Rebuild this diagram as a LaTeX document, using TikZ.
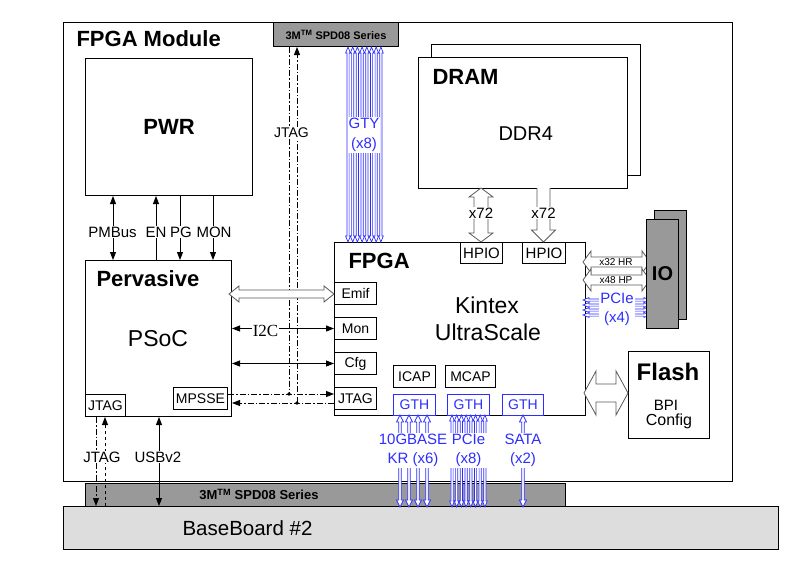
\documentclass[tikz,border=0pt]{standalone}
\usepackage{fontspec}
\setmainfont{Liberation Sans}
\newfontfamily\serifx{Liberation Serif}
\usetikzlibrary{arrows.meta,calc}
\definecolor{bl}{RGB}{45,45,255}
\definecolor{cgray}{RGB}{153,153,153}
\definecolor{bbgray}{RGB}{221,221,221}
\newcommand\fs[2]{\fontsize{#1}{#2}\selectfont}
% vertical double-headed hollow arrow: style, x, ytop, ybot, shaft half, head half, head length
\newcommand\hvD[7]{\draw[#1] (#2,#3) -- ++(#6,#7) -- ++({#5-#6},0) -- ({#2+#5},{#4-#7}) -- ++({#6-#5},0) -- (#2,#4) -- ++(-#6,-#7) -- ++({#6-#5},0) -- ({#2-#5},{#3+#7}) -- ++({#5-#6},0) -- cycle;}
% horizontal double-headed hollow arrow: style, y, xleft, xright, shaft half, head half, head length
\newcommand\hhD[7]{\draw[#1] (#3,#2) -- ++(#7,-#6) -- ++(0,{#6-#5}) -- ({#4-#7},{#2-#5}) -- ++(0,{#5-#6}) -- (#4,#2) -- ++(-#7,#6) -- ++(0,{#5-#6}) -- ({#3+#7},{#2+#5}) -- ++(0,{#6-#5}) -- cycle;}
% vertical single-headed (down) open hollow arrow
\newcommand\hvS[7]{\draw[#1] ({#2-#5},#3) -- ({#2-#5},{#4-#7}) -- ({#2-#6},{#4-#7}) -- (#2,#4) -- ({#2+#6},{#4-#7}) -- ({#2+#5},{#4-#7}) -- ({#2+#5},#3);}
\begin{document}
\begin{tikzpicture}[x=1pt,y=-1pt,
  bx/.style={draw, line width=1pt, inner sep=0pt, anchor=north west},
  port/.style={bx, font=\fs{14}{16}},
  bport/.style={bx, draw=bl, text=bl, font=\fs{14}{16}},
  lbl/.style={fill=white, inner sep=1pt, font=\fs{15}{18}},
  blbl/.style={lbl, text=bl, align=center},
  tip/.tip={Triangle[length=8pt,width=6pt]},
  arr/.style={line width=0.9pt, -tip},
  darr/.style={line width=0.9pt, tip-tip},
  dd/.style={dash pattern=on 6pt off 2pt on 1.5pt off 2pt},
  hol/.style={draw=black!65, fill=white, line width=0.8pt},
  bhol/.style={draw=bl, fill=white, line width=0.7pt},
]
\path[use as bounding box] (0,0) rectangle (794,560);

% ---------- boxes ----------
\node[bx, minimum width=669, minimum height=459] (module) at (63,22) {};
\node[anchor=base west, font=\bfseries\fs{22}{26}] (modt) at (73,46) {FPGA Module};
\node[bx, fill=cgray, minimum width=125, minimum height=24] (topc) at (273,22) {};
\node[font=\bfseries\fs{11}{13}] (topct) at (topc.center) {3M\textsuperscript{TM} SPD08 Series};

\node[bx, minimum width=167, minimum height=137, font=\bfseries\fs{22}{26}] (pwr) at (85,58) {PWR};

\node[bx, minimum width=209, minimum height=131] (dramb) at (431,44) {};
\node[bx, fill=white, minimum width=209, minimum height=131] (dram) at (418,57) {};
\node[anchor=base west, font=\bfseries\fs{22}{26}] (dramt) at (429,84) {DRAM};
\node[anchor=base west, font=\fs{20}{24}] (ddr) at (495,140) {DDR4};

\node[bx, minimum width=251, minimum height=173] (fpga) at (334,242) {};
\node[anchor=base west, font=\bfseries\fs{22}{26}] (fpgat) at (345,268) {FPGA};
\node[anchor=base, font=\fs{23}{27}] (kin) at (487,313) {Kintex};
\node[anchor=base, font=\fs{23}{27}] (us) at (488,340) {UltraScale};
\node[port, minimum width=42, minimum height=21, font=\fs{15}{18}] (hpio1) at (460,242) {HPIO};
\node[port, minimum width=43, minimum height=21, font=\fs{15}{18}] (hpio2) at (522,242) {HPIO};
\node[port, minimum width=42, minimum height=22] (emif) at (334,282) {Emif};
\node[port, minimum width=42, minimum height=22] (mon) at (334,317) {Mon};
\node[port, minimum width=42, minimum height=22] (cfg) at (334,352) {Cfg};
\node[port, minimum width=42, minimum height=22] (fjtag) at (334,387) {JTAG};
\node[port, minimum width=42, minimum height=22] (icap) at (393,365) {ICAP};
\node[port, minimum width=50, minimum height=22] (mcap) at (445,365) {MCAP};
\node[bport, minimum width=42, minimum height=21] (gth1) at (393,394) {GTH};
\node[bport, minimum width=42, minimum height=21] (gth2) at (447,394) {GTH};
\node[bport, minimum width=41, minimum height=21] (gth3) at (502,394) {GTH};

\node[bx, minimum width=146, minimum height=156] (perv) at (85,260) {};
\node[anchor=base west, font=\bfseries\fs{22}{26}] (pervt) at (93,286) {Pervasive};
\node[anchor=base, font=\fs{23}{27}] (psoc) at (158,346) {PSoC};
\node[port, minimum width=40, minimum height=22] (pjtag) at (85,394) {JTAG};
\node[port, minimum width=54, minimum height=22] (mpsse) at (173,387) {MPSSE};

\node[bx, minimum width=81, minimum height=87, align=center] (flash) at (628,351) {};
\node[anchor=base, font=\bfseries\fs{24}{28}] (flt) at (668,380) {Flash};
\node[anchor=base, font=\fs{15}{18}] (bpi) at (666,410) {BPI};
\node[anchor=base, font=\fs{16}{19}] (conf) at (669,425) {Config};

\node[bx, fill=cgray, minimum width=480, minimum height=23] (botc) at (85,483) {};
\node[font=\bfseries\fs{13}{15}] (botct) at (259,494.5) {3M\textsuperscript{TM} SPD08 Series};
\node[bx, fill=bbgray, minimum width=715, minimum height=43] (base) at (63,506) {};
\node[anchor=west, font=\fs{20.5}{24}] (baset) at (179,528) {BaseBoard \#2};

% ---------- JTAG dash-dot network ----------
\coordinate (ja) at (289,394);
\coordinate (jb) at (297,403);
\draw[dd, line width=0.9pt] (topc.south -| ja) -- (ja);
\draw[dd, arr] (jb) -- (topc.south -| jb);
\draw[dd, arr] (mpsse.east |- ja) -- (fjtag.west |- ja);
\draw[dd, arr] (fjtag.west |- jb) -- (perv.east |- jb);
\fill (ja) circle (1.8);
\fill (jb) circle (1.8);

% ---------- Pervasive <-> FPGA ----------
\hhD{hol}{294}{229}{334}{4}{8}{10}
\draw[darr] (perv.east |- mon.west) -- (mon.west);
\draw[darr] (perv.east |- cfg.west) -- (cfg.west);

% ---------- PWR <-> Pervasive ----------
\draw[darr] ([xshift=28pt]pwr.south west) -- ([xshift=28pt]perv.north west);
\draw[arr] ([xshift=71pt]perv.north west) -- ([xshift=71pt]pwr.south west);
\draw[arr] ([xshift=95pt]pwr.south west) -- ([xshift=95pt]perv.north west);
\draw[arr] ([xshift=128pt]pwr.south west) -- ([xshift=128pt]perv.north west);

% ---------- Pervasive <-> BaseBoard ----------
\draw[dd, arr] ([xshift=11pt]pjtag.south west) -- ([xshift=11pt]pjtag.south west |- base.north);
\draw[dashed, arr] ([xshift=20pt]pjtag.south west |- base.north) -- ([xshift=20pt]pjtag.south west);
\draw[darr] ([xshift=74pt]perv.south west) -- ([xshift=74pt]perv.south west |- base.north);

% ---------- DRAM <-> FPGA ----------
\hvD{hol}{481}{188}{242}{7}{12}{9}
\hvS{hol}{543.5}{188}{242}{6.5}{12}{12}

% ---------- GTY ----------
\foreach \i in {0,...,7} {\hvD{bhol}{348+4.7*\i}{47}{242}{1.1}{2.4}{6}}

% ---------- GTH ----------
\foreach \xx in {400,409,418,427} {\hvD{bhol}{\xx}{415}{507}{1.3}{3.5}{7}}
\foreach \i in {0,...,7} {\hvD{bhol}{452+4.7*\i}{415}{507}{1.1}{2.4}{6}}
\hvD{bhol}{523}{415}{507}{1.3}{3.5}{7}

% ---------- IO ----------
\foreach \yy in {300,305,310,315} {\hhD{bhol}{\yy}{583}{650}{1.1}{2.4}{6}}
\hhD{hol}{262}{583}{650}{5}{11}{8}
\hhD{hol}{280}{583}{650}{5}{11}{8}
\node[font=\fs{10}{11}, inner sep=0pt] (x32) at (616,262.5) {x32 HR};
\node[font=\fs{10}{11}, inner sep=0pt] (x48) at (616,280.5) {x48 HP};
\node[blbl, font=\fs{15}{19}] (pcie4) at (617,309.5) {PCIe\\(x4)};
\node[bx, fill=cgray, minimum width=32, minimum height=109] (iob) at (654,210) {};
\node[bx, fill=cgray, minimum width=32, minimum height=109, font=\bfseries\fs{20}{24}] (iof) at (646,219) {IO};

% ---------- Flash ----------
\hhD{hol}{393}{584}{628}{9}{22}{12}

% ---------- labels ----------
\node[lbl] (lpmb) at (112.5,232) {PMBus};
\node[lbl] (len) at (156,232) {EN};
\node[lbl] (lpg) at (181,232) {PG};
\node[lbl] (lmon) at (214,232) {MON};
\node[lbl, font=\fs{14}{17}] (ljt) at (291.5,133) {JTAG};
\node[blbl, font=\fs{15}{20}] (lgty) at (364,135) {GTY\\(x8)};
\node[lbl] (l72a) at (481,213) {x72};
\node[lbl] (l72b) at (543.5,213) {x72};
\node[lbl, font=\serifx\fs{17}{20}] (li2c) at (265.5,331) {I2C};
\node[lbl] (ljt2) at (102,457) {JTAG};
\node[lbl] (lusb) at (158,457) {USBv2};
\node[blbl, font=\fs{15}{19}, minimum width=70] (l10g) at (413,450.5) {10GBASE\\KR (x6)};
\node[blbl, font=\fs{15}{19}, minimum width=40] (lpcie8) at (468.5,450.5) {PCIe\\(x8)};
\node[blbl, font=\fs{15}{19}] (lsata) at (523,450.5) {SATA\\(x2)};
\end{tikzpicture}
\end{document}
